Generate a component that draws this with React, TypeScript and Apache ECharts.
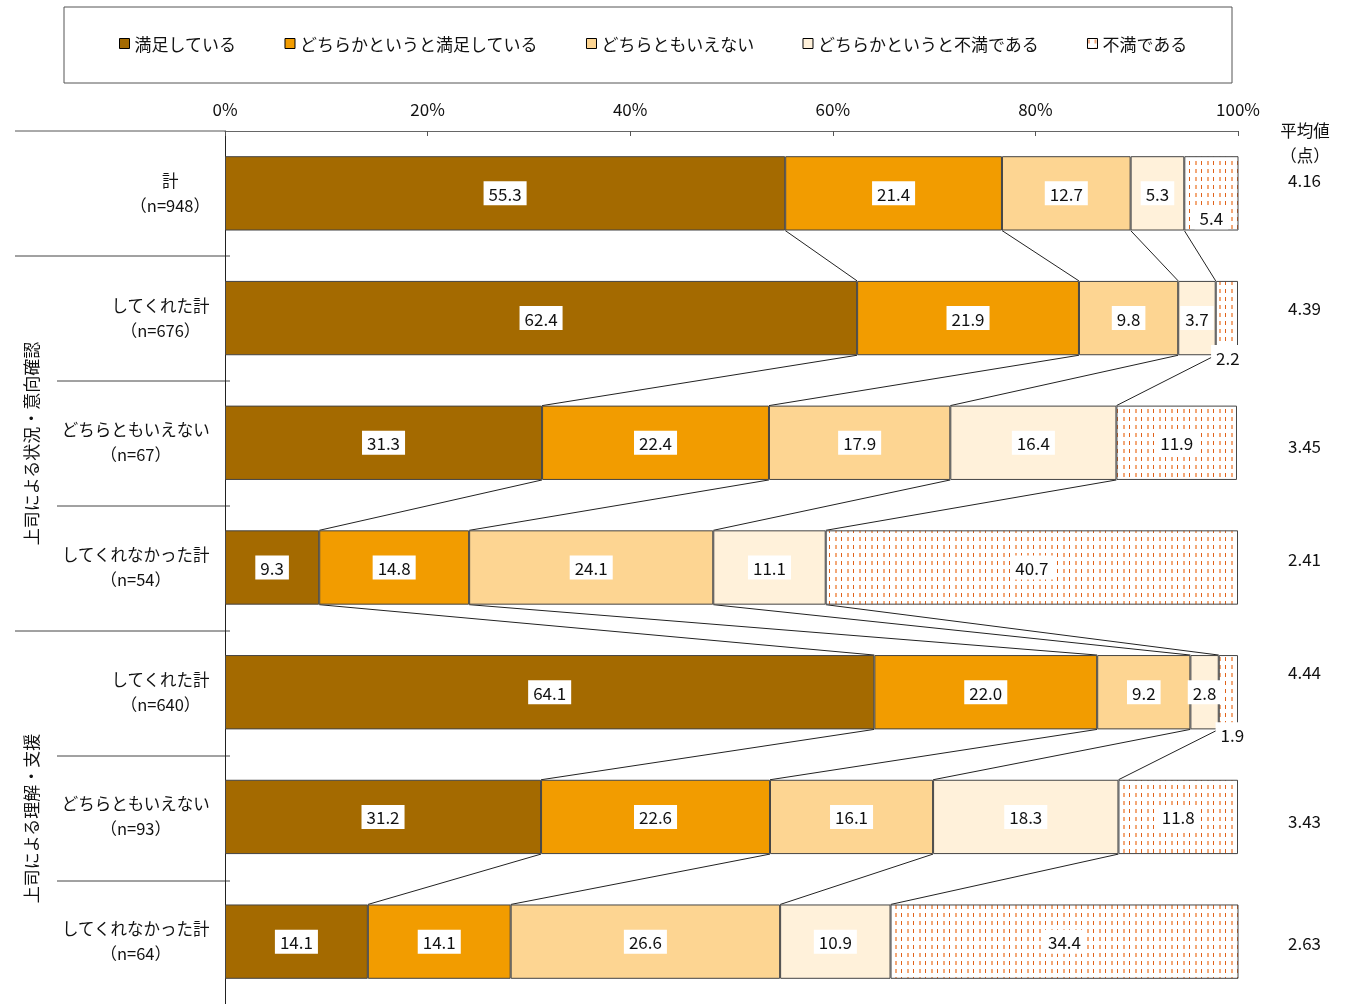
import React, { useEffect, useRef } from "react";
import * as echarts from "echarts";

const rowNames = ["計", "してくれた計", "どちらともいえない", "してくれなかった計", "してくれた計", "どちらともいえない", "してくれなかった計"];
const rowN = [948, 676, 67, 54, 640, 93, 64];
const means = ["4.16", "4.39", "3.45", "2.41", "4.44", "3.43", "2.63"];
const segNames = ["満足している", "どちらかというと満足している", "どちらともいえない", "どちらかというと不満である", "不満である"];
const satisfied = [55.3, 62.4, 31.3, 9.3, 64.1, 31.2, 14.1];
const ratherSatisfied = [21.4, 21.9, 22.4, 14.8, 22.0, 22.6, 14.1];
const neutral = [12.7, 9.8, 17.9, 24.1, 9.2, 16.1, 26.6];
const ratherDissatisfied = [5.3, 3.7, 16.4, 11.1, 2.8, 18.3, 10.9];
const dissatisfied = [5.4, 2.2, 11.9, 40.7, 1.9, 11.8, 34.4];
const xTicks = [0, 20, 40, 60, 80, 100];
const groupLabels = ["上司による状況・意向確認", "上司による理解・支援"];

// layout-only settings
const GRID_LEFT = 225;
const GRID_TOP = 131;
const GRID_W = 1013;
const BAND = 125;
const BAR_RATIO = 0.596;
const meanShift = [-14, -11, 3, -9, -21, 4, 1];
const labelOffsets: Record<string, [number, number]> = {
  "4-0": [0, 24],
  "4-1": [1, 39],
  "4-4": [4, 42],
};

const FONT = "'Noto Sans CJK JP', 'Noto Sans', sans-serif";
const colors = ["#a46a00", "#f29c00", "#fdd592", "#fff1da"];

function makePattern() {
  const c = document.createElement("canvas");
  c.width = 12;
  c.height = 8;
  const g = c.getContext("2d")!;
  g.fillStyle = "#ffffff";
  g.fillRect(0, 0, 12, 8);
  g.fillStyle = "#e0621a";
  g.fillRect(1, 1, 1, 4);
  g.fillStyle = "#f3a878";
  g.fillRect(7, 1, 2, 4);
  return c;
}

export default function App() {
  const ref = useRef<HTMLDivElement>(null);
  useEffect(() => {
    if (!ref.current) return;
    const chart = echarts.init(ref.current, undefined, { renderer: "svg" });
    const seriesVals = [satisfied, ratherSatisfied, neutral, ratherDissatisfied, dissatisfied];
    const pattern = { image: makePattern(), repeat: "repeat" } as any;
    const categories = rowNames.map((n, i) => `${n}\n（n=${rowN[i]}）`);

    const barSeries = seriesVals.map((vals, s) => ({
      name: segNames[s],
      type: "bar",
      stack: "total",
      barWidth: `${BAR_RATIO * 100}%`,
      itemStyle: {
        color: s < 4 ? colors[s] : pattern,
        borderColor: "#444",
        borderWidth: 1,
      },
      label: {
        show: true,
        position: "inside",
        formatter: (p: any) => Number(p.value).toFixed(1),
        color: "#111",
        fontSize: 17,
        fontFamily: FONT,
        backgroundColor: "#fff",
        padding: [4, 5, 3, 5],
      },
      data: vals.map((v, r) => {
        const off = labelOffsets[`${s}-${r}`];
        return off ? { value: v, label: { offset: off } } : v;
      }),
    }));

    const connectors: number[][] = [];
    for (let r = 0; r < rowNames.length - 1; r++) {
      let a = 0;
      let b = 0;
      for (let s = 0; s < 4; s++) {
        a += seriesVals[s][r];
        b += seriesVals[s][r + 1];
        connectors.push([a, r, b, r + 1]);
      }
    }

    const graphic: any[] = [
      { type: "rect", shape: { x: 64, y: 7, width: 1168, height: 76 }, style: { fill: "none", stroke: "#555", lineWidth: 1 } },
      { type: "line", shape: { x1: 15, y1: GRID_TOP, x2: GRID_LEFT, y2: GRID_TOP }, style: { stroke: "#555", lineWidth: 1 } },
    ];
    for (let k = 1; k < rowNames.length; k++) {
      const y = GRID_TOP + k * BAND;
      const long = k === 1 || k === 4;
      graphic.push({ type: "line", shape: { x1: long ? 15 : 57, y1: y, x2: GRID_LEFT + 5, y2: y }, style: { stroke: "#444", lineWidth: 1 } });
    }
    graphic.push({
      type: "text", x: 30, y: GRID_TOP + 2.5 * BAND, rotation: Math.PI / 2,
      style: { text: groupLabels[0], fontSize: 17, fontFamily: FONT, fill: "#111", align: "center", verticalAlign: "middle" },
    });
    graphic.push({
      type: "text", x: 30, y: GRID_TOP + 5.5 * BAND, rotation: Math.PI / 2,
      style: { text: groupLabels[1], fontSize: 17, fontFamily: FONT, fill: "#111", align: "center", verticalAlign: "middle" },
    });
    graphic.push({
      type: "text", x: 1305, y: 142,
      style: { text: "平均値\n（点）", fontSize: 16.5, lineHeight: 25, fontFamily: FONT, fill: "#111", align: "center", verticalAlign: "middle" },
    });

    const meanRich: Record<string, any> = {};
    meanShift.forEach((sft, i) => {
      meanRich[`m${i}`] = {
        fontSize: 17,
        color: "#111",
        fontFamily: FONT,
        padding: sft < 0 ? [0, 0, -2 * sft, 0] : [2 * sft, 0, 0, 0],
      };
    });

    chart.setOption({
      animation: false,
      textStyle: { fontFamily: FONT },
      legend: {
        data: segNames,
        top: 30,
        left: 114,
        icon: "rect",
        itemWidth: 10,
        itemHeight: 10,
        itemGap: 48,
        itemStyle: { borderColor: "#000", borderWidth: 1 },
        textStyle: { fontSize: 17, color: "#111", fontFamily: FONT },
      },
      grid: { left: GRID_LEFT, top: GRID_TOP, width: GRID_W, height: BAND * rowNames.length },
      xAxis: {
        type: "value",
        position: "top",
        min: xTicks[0],
        max: xTicks[xTicks.length - 1],
        interval: xTicks[1] - xTicks[0],
        axisLabel: { formatter: "{value}%", fontSize: 17, color: "#111", margin: 14 },
        axisLine: { show: true, lineStyle: { color: "#666" } },
        axisTick: { show: true, inside: true, length: 5, lineStyle: { color: "#555" } },
        splitLine: { show: false },
      },
      yAxis: [
        {
          type: "category",
          inverse: true,
          data: categories,
          axisLine: { show: true, lineStyle: { color: "#222" } },
          axisTick: { show: false },
          axisLabel: {
            margin: 15,
            align: "right",
            formatter: (v: string) => v.split("\n").map((t) => `{c|${t}}`).join("\n"),
            rich: { c: { align: "center", fontSize: 16.5, lineHeight: 25, color: "#111", fontFamily: FONT, padding: [0, 0, 2, 0] } },
          },
        },
        {
          type: "category",
          inverse: true,
          position: "right",
          data: means,
          axisLine: { show: false },
          axisTick: { show: false },
          axisLabel: {
            margin: 50,
            align: "left",
            formatter: (v: string, i: number) => `{m${i}|${v}}`,
            rich: meanRich,
          },
        },
      ],
      graphic,
      series: [
        ...barSeries,
        {
          type: "custom",
          silent: true,
          coordinateSystem: "cartesian2d",
          encode: { x: [0, 2], y: [1, 3] },
          data: connectors,
          renderItem: (_p: any, api: any) => {
            const p1 = api.coord([api.value(0), api.value(1)]);
            const p2 = api.coord([api.value(2), api.value(3)]);
            const h = (api.size([0, 1])[1] * BAR_RATIO) / 2;
            return {
              type: "line",
              shape: { x1: p1[0], y1: p1[1] + h, x2: p2[0], y2: p2[1] - h },
              style: { stroke: "#222", lineWidth: 1 },
            };
          },
        },
      ],
    } as any);
    return () => chart.dispose();
  }, []);
  return <div ref={ref} style={{ position: "fixed", left: 0, top: 0, width: 1347, height: 1004 }} />;
}
